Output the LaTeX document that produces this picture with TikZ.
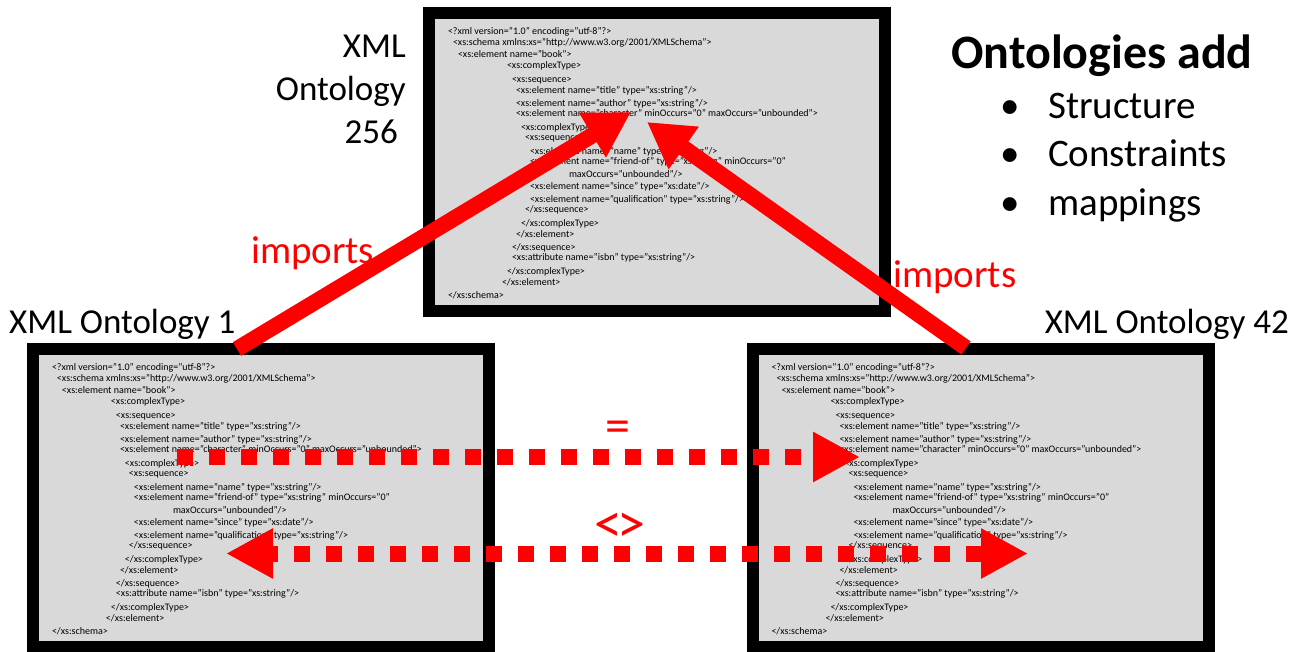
\documentclass[tikz,border=0pt]{standalone}
\usepackage{fontspec}
\setmainfont{Carlito}
\usetikzlibrary{arrows.meta,calc}

\definecolor{boxgray}{RGB}{217,217,217}
\definecolor{linkred}{RGB}{255,0,0}

% one line of the listing: indent, baseline step, text (box has no height/depth)
\newcommand\codeln[3]{\vskip#2pt\relax\setbox0=\hbox{\hskip#1pt\relax#3}\ht0=0pt\dp0=0pt\box0}
% the "book" schema shown in every box
\newcommand\bookschema{\vbox{\offinterlineskip\fontsize{10}{12}\selectfont
  \codeln{25}{0}{<?xml version="1.0" encoding="utf-8"?>}
  \codeln{30}{11}{<xs:schema xmlns:xs="http://www.w3.org/2001/XMLSchema">}
  \codeln{35}{12}{<xs:element name="book">}
  \codeln{84}{11}{<xs:complexType>}
  \codeln{89}{14}{<xs:sequence>}
  \codeln{93}{11}{<xs:element name="title" type="xs:string"/>}
  \codeln{93}{13}{<xs:element name="author" type="xs:string"/>}
  \codeln{93}{10}{<xs:element name="character" minOccurs="0" maxOccurs="unbounded">}
  \codeln{98}{14}{<xs:complexType>}
  \codeln{102}{10}{<xs:sequence>}
  \codeln{107}{14}{<xs:element name="name" type="xs:string"/>}
  \codeln{107}{10}{<xs:element name="friend-of" type="xs:string" minOccurs="0"}
  \codeln{146}{13}{maxOccurs="unbounded"/>}
  \codeln{107}{12}{<xs:element name="since" type="xs:date"/>}
  \codeln{107}{13}{<xs:element name="qualification" type="xs:string"/>}
  \codeln{102}{10}{</xs:sequence>}
  \codeln{98}{14}{</xs:complexType>}
  \codeln{93}{11}{</xs:element>}
  \codeln{89}{13}{</xs:sequence>}
  \codeln{89}{10}{<xs:attribute name="isbn" type="xs:string"/>}
  \codeln{84}{14}{</xs:complexType>}
  \codeln{79}{11}{</xs:element>}
  \codeln{25}{13}{</xs:schema>}}}

\tikzset{
  xmlbox/.style={draw=black, fill=boxgray, line width=12pt,
    minimum width=456pt, minimum height=298pt, inner sep=0pt},
  listing/.style={anchor=north west, inner sep=0pt, outer sep=0pt},
  biglabel/.style={inner sep=0pt, font=\fontsize{35}{43}\selectfont},
  redlabel/.style={inner sep=0pt, text=linkred, font=\fontsize{39}{47}\selectfont},
  importarrow/.style={draw=linkred, line width=16pt,
    -{Triangle[length=45pt,width=49pt]}},
  dotline/.style={draw=linkred, line width=16pt,
    dash pattern=on 16pt off 16pt},
}

\begin{document}
\begin{tikzpicture}[x=1pt,y=-1pt]
\useasboundingbox (0,0) rectangle (1293,651);

% the three schema documents
\node[xmlbox] (top)   at (657,162)   {};
\node[xmlbox] (ont1)  at (261,498)   {};
\node[xmlbox] (ont42) at (980.5,498) {};
\node[listing] (topcode)   at ($(top.north west)+(0,27)$)   {\bookschema};
\node[listing] (ont1code)  at ($(ont1.north west)+(0,27)$)  {\bookschema};
\node[listing] (ont42code) at ($(ont42.north west)+(0,27)$) {\bookschema};

% names of the documents
\node[biglabel, align=right, anchor=base east] (name256) at (406,143)
  {XML\\Ontology\\256\hspace*{8pt}};
\node[biglabel, anchor=base west] (name1)  at (9,333)    {XML Ontology 1};
\node[biglabel, anchor=base east] (name42) at (1289,333) {XML Ontology 42};

% what ontologies add
\node[inner sep=0pt, anchor=base west, font=\fontsize{48}{56}\bfseries] (addtitle)
  at (951,68) {Ontologies add};
\node[inner sep=0pt, anchor=base west, font=\fontsize{39}{48.5}\selectfont] (addlist)
  at (1000,118) {\begin{tabular}[t]{@{}p{48pt}@{}l@{}}
    • & Structure\\
    • & Constraints\\
    • & mappings
  \end{tabular}};

% relation labels
\node[redlabel, anchor=base west] (imp1lbl)  at (251,263) {imports};
\node[redlabel, anchor=base west] (imp42lbl) at (893,287) {imports};
\node[redlabel, font=\fontsize{50}{56}\selectfont] (eqlbl)  at (618,432) {=};
\node[redlabel, font=\fontsize{56}{60}\selectfont] (neqlbl) at (620,528) {<\kern-5pt>};

% anchor points of the connectors
\coordinate (imp1from)  at ($(ont1.north west)+(210,6)$);
\coordinate (imp1to)    at ($(top.north west)+(208,105)$);
\coordinate (imp42from) at ($(ont42.north west)+(219.5,5)$);
\coordinate (imp42to)   at ($(top.north west)+(224,115)$);
\coordinate (eqfrom)    at ($(ont1.north west)+(150,114)$);
\coordinate (eqto)      at ($(ont42.north west)+(113.5,114)$);
\coordinate (neqL)      at ($(ont1.north west)+(199,210.5)$);
\coordinate (neqR)      at ($(ont42.north west)+(281.5,210.5)$);

% imports
\draw[importarrow] (imp1from) -- (imp1to);
\draw[importarrow] (imp42from) -- (imp42to);

% equal / not equal mappings
\draw[dotline, -{Triangle[length=47pt,width=47pt]}] (eqfrom) -- (eqto);
\draw[dotline, dash phase=8pt, {Triangle[length=47pt,width=47pt]}-{Triangle[length=47pt,width=47pt]}]
  (neqL) -- (neqR);
\end{tikzpicture}
\end{document}
